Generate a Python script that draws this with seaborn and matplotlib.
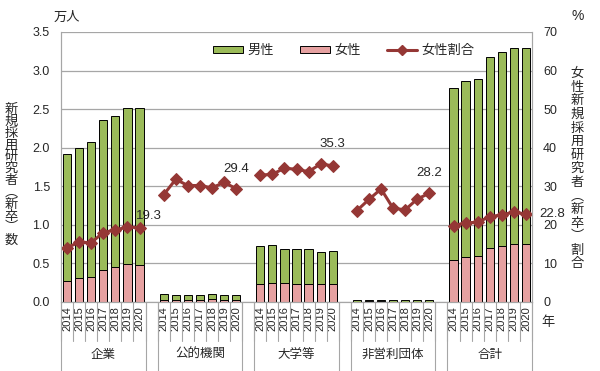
import numpy as np
import pandas as pd
import matplotlib
matplotlib.use('Agg')
import matplotlib.pyplot as plt
import seaborn as sns
from matplotlib.patches import Patch
from matplotlib.lines import Line2D

sns.set_style('white')
plt.rcParams['font.family'] = ['Liberation Sans', 'Noto Sans CJK JP', 'DejaVu Sans']

groups = ['企業', '公的機関', '大学等', '非営利団体', '合計']
years = ['2014', '2015', '2016', '2017', '2018', '2019', '2020']

# 万人
total = [
    [1.92, 1.99, 2.08, 2.36, 2.41, 2.51, 2.51],
    [0.10, 0.095, 0.09, 0.09, 0.11, 0.095, 0.09],
    [0.72, 0.735, 0.69, 0.69, 0.69, 0.645, 0.66],
    [0.025, 0.025, 0.025, 0.024, 0.022, 0.022, 0.022],
    [2.78, 2.86, 2.895, 3.17, 3.24, 3.29, 3.29],
]
female = [
    [0.27, 0.31, 0.32, 0.42, 0.45, 0.49, 0.48],
    [0.028, 0.030, 0.027, 0.027, 0.033, 0.029, 0.026],
    [0.236, 0.243, 0.24, 0.237, 0.233, 0.231, 0.233],
    [0.006, 0.007, 0.007, 0.006, 0.005, 0.006, 0.006],
    [0.545, 0.58, 0.60, 0.70, 0.72, 0.755, 0.75],
]
# %
ratio = [
    [14.1, 15.5, 15.4, 18.0, 18.7, 19.4, 19.3],
    [27.8, 31.8, 30.2, 30.2, 29.6, 31.0, 29.4],
    [32.9, 33.1, 34.7, 34.4, 33.8, 35.8, 35.3],
    [23.7, 26.6, 29.3, 24.3, 23.9, 26.7, 28.2],
    [19.8, 20.5, 20.7, 22.1, 22.6, 23.3, 22.8],
]

rows = []
for g, name in enumerate(groups):
    for i, y in enumerate(years):
        rows.append({'slot': g * 8 + i, 'group': name, 'year': y,
                     'total': total[g][i], 'female': female[g][i],
                     'ratio': ratio[g][i]})
df = pd.DataFrame(rows)

green = '#9BBB59'
pink = '#E6A1A1'
red = '#953735'

fig = plt.figure(figsize=(6, 3.71), dpi=100)
ax = fig.add_axes([61 / 600, 1 - 302 / 371, 471 / 600, 270 / 371])

sns.barplot(data=df, x='slot', y='total', native_scale=True, width=0.68,
            color=green, edgecolor='black', linewidth=0.7, saturation=1, ax=ax)
sns.barplot(data=df, x='slot', y='female', native_scale=True, width=0.68,
            color=pink, edgecolor='black', linewidth=0.7, saturation=1, ax=ax)

ax.set_xlim(-0.5, 38.5)
ax.set_ylim(0, 3.5)
ax.set_yticks(np.arange(0, 3.51, 0.5))
ax.set_yticklabels([f'{v:.1f}' for v in np.arange(0, 3.51, 0.5)], fontsize=9)
ax.yaxis.grid(True, color='#A6A6A6', linewidth=0.9)
ax.set_axisbelow(True)
ax.set_xticks(df['slot'])
ax.set_xticklabels(df['year'], rotation=90, fontsize=8)
ax.tick_params(axis='x', length=0, pad=3)
ax.tick_params(axis='y', length=0, pad=8)
ax.set_xlabel('')
ax.set_ylabel('')
ax.spines['top'].set_visible(False)
for s in ['left', 'bottom', 'right']:
    ax.spines[s].set_color('#A6A6A6')

ax2 = ax.twinx()
sns.lineplot(data=df, x='slot', y='ratio', units='group', estimator=None,
             color=red, linewidth=2.2, marker='D', markersize=6,
             markeredgecolor=red, ax=ax2)
ax2.set_ylim(0, 70)
ax2.set_yticks(range(0, 71, 10))
ax2.set_yticklabels([str(v) for v in range(0, 71, 10)], fontsize=9)
ax2.tick_params(axis='y', length=0, pad=8)
ax2.set_ylabel('')
ax2.set_xlabel('')
ax2.spines['top'].set_visible(False)
for s in ['left', 'bottom', 'right']:
    ax2.spines[s].set_color('#A6A6A6')

# value labels for 2020
offsets = [(9, 12), (0, 20), (0, 22), (0, 20), (26, 0)]
for g in range(5):
    ax2.annotate(f'{ratio[g][6]:.1f}', (g * 8 + 6, ratio[g][6]),
                 xytext=offsets[g], textcoords='offset pixels',
                 ha='center', va='center', fontsize=9.5)

# category box lines
trans = ax.get_xaxis_transform()
for k in range(40):
    ax.plot([k - 0.5, k - 0.5], [0, -0.145], transform=trans, color='#A6A6A6',
            linewidth=0.8, clip_on=False)
for g in range(5):
    for xb in (g * 8 - 0.5, g * 8 + 6.5):
        ax.plot([xb, xb], [0, -0.255], transform=trans, color='#A6A6A6',
                linewidth=0.8, clip_on=False)
    ax.text(g * 8 + 3, -0.197, groups[g], transform=trans, ha='center',
            va='center', fontsize=9)

# legend
handles = [Patch(facecolor=green, edgecolor='black', linewidth=0.7, label='男性'),
           Patch(facecolor=pink, edgecolor='black', linewidth=0.7, label='女性'),
           Line2D([0], [0], color=red, linewidth=2.2, marker='D', markersize=5,
                  label='女性割合')]
ax2.legend(handles=handles, loc='center', bbox_to_anchor=(0.6, 0.93),
           ncol=3, frameon=False, fontsize=9.5, handlelength=2.3,
           handleheight=0.45, columnspacing=2.0, handletextpad=0.3)

fig.text(67 / 600, 1 - 18 / 371, '万人', ha='center', va='center', fontsize=9.5)
fig.text(578 / 600, 1 - 16 / 371, '%', ha='center', va='center', fontsize=10)
fig.text(548 / 600, 1 - 323 / 371, '年', ha='center', va='center', fontsize=9.5)

left_label = '新規採用研究者︵新卒︶数'
fig.text(11 / 600, 1 - 175 / 371, '\n'.join(left_label), ha='center',
         va='center', fontsize=9.5, linespacing=0.98)
right_label = '女性新規採用研究者︵新卒︶割合'
fig.text(577 / 600, 1 - 169 / 371, '\n'.join(right_label), ha='center',
         va='center', fontsize=9.5, linespacing=1.17)

fig.savefig('out.png', dpi=100)
